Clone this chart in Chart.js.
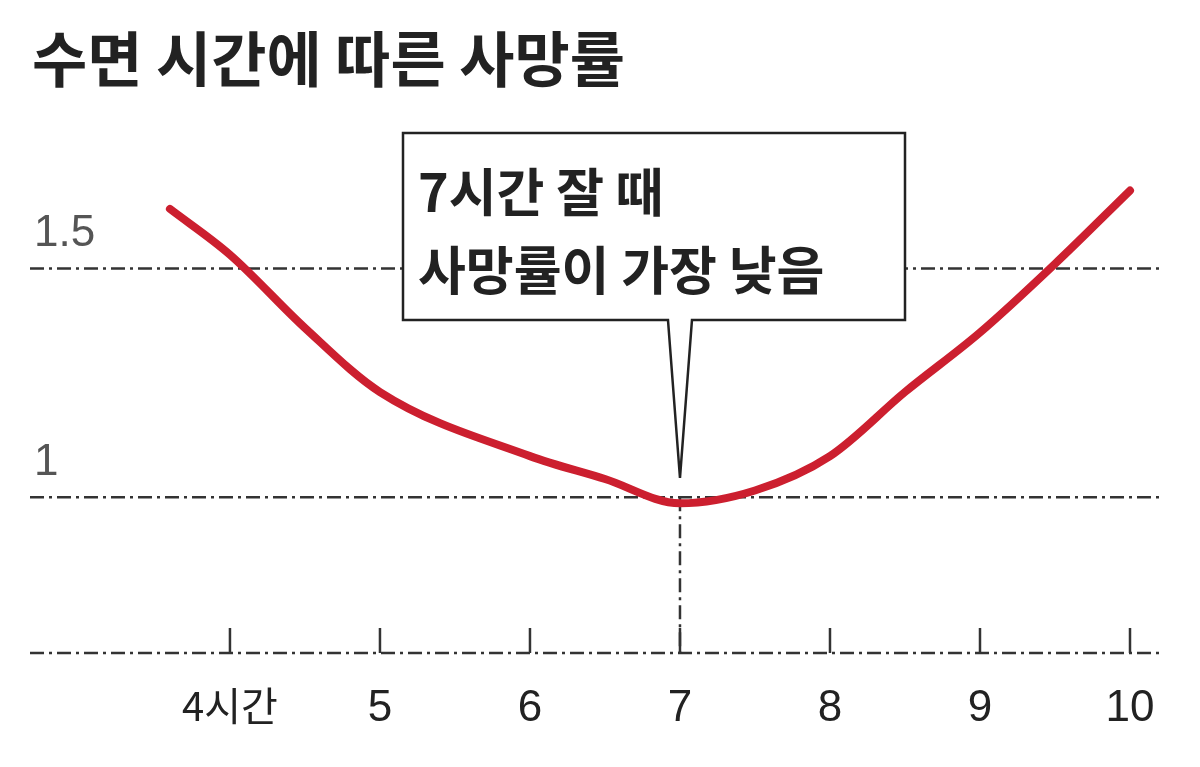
<!DOCTYPE html>
<html>
<head>
<meta charset="utf-8">
<script src="https://cdn.jsdelivr.net/npm/chart.js@4"></script>
<style>body{margin:0;background:#fff}</style>
</head>
<body>
<canvas id="myChart"></canvas>
<script>
const hours = [3.6, 4, 4.5, 5, 6, 6.5, 7, 7.5, 8, 8.5, 9, 9.5, 10];
const deathRate = [1.63, 1.53, 1.37, 1.23, 1.09, 1.04, 0.987, 1.015, 1.09, 1.23, 1.36, 1.51, 1.67];
const xTicks = [4, 5, 6, 7, 8, 9, 10];
const xTickLabels = ['4시간', '5', '6', '7', '8', '9', '10'];
const yLines = [1.5, 1];
const yLabels = ['1.5', '1'];

const numFont = "'Liberation Sans Narrow', 'Liberation Sans', sans-serif";
const krFont = "'Noto Sans CJK KR', sans-serif";

let ctx = document.getElementById('myChart').getContext('2d');
ctx.canvas.width = 1200;
ctx.canvas.height = 767;

const decor = {
    id: 'decor',
    beforeDatasetsDraw(chart) {
        const c = chart.ctx, x = chart.scales.x, y = chart.scales.y, a = chart.chartArea;
        c.save();
        c.strokeStyle = '#333';
        c.lineWidth = 2.5;
        c.setLineDash([14, 5, 3, 5]);
        yLines.forEach(v => {
            const py = y.getPixelForValue(v);
            c.beginPath(); c.moveTo(a.left, py); c.lineTo(a.right, py); c.stroke();
        });
        c.beginPath(); c.moveTo(a.left, a.bottom); c.lineTo(a.right, a.bottom); c.stroke();
        // vertical line at 7
        const p7 = x.getPixelForValue(7);
        c.beginPath(); c.moveTo(p7, y.getPixelForValue(1)); c.lineTo(p7, a.bottom); c.stroke();
        c.setLineDash([]);
        xTicks.forEach(v => {
            const px = x.getPixelForValue(v);
            c.beginPath(); c.moveTo(px, a.bottom - 25); c.lineTo(px, a.bottom); c.stroke();
        });
        c.fillStyle = '#222';
        c.textAlign = 'center';
        xTicks.forEach((v, i) => {
            const px = x.getPixelForValue(v);
            c.font = i === 0 ? '40px ' + krFont : '44px ' + numFont;
            c.fillText(xTickLabels[i], px, a.bottom + 68);
        });
        c.textAlign = 'left';
        c.fillStyle = '#555';
        c.font = '44px ' + numFont;
        yLines.forEach((v, i) => {
            c.fillText(yLabels[i], 34, y.getPixelForValue(v) - 22);
        });
        // title
        c.fillStyle = '#222';
        c.font = 'bold 60px ' + krFont;
        c.fillText('수면 시간에 따른 사망률', 32, 82);
        c.restore();
    },
    afterDatasetsDraw(chart) {
        const c = chart.ctx, x = chart.scales.x;
        const p7 = x.getPixelForValue(7);
        c.save();
        c.fillStyle = '#fff';
        c.strokeStyle = '#222';
        c.lineWidth = 2.5;
        c.beginPath();
        c.moveTo(403, 133); c.lineTo(905, 133); c.lineTo(905, 320);
        c.lineTo(p7 + 12, 320); c.lineTo(p7, 478); c.lineTo(p7 - 12, 320);
        c.lineTo(403, 320); c.closePath();
        c.fill(); c.stroke();
        c.fillStyle = '#222';
        c.font = 'bold 52px ' + krFont;
        c.textAlign = 'left';
        c.fillText('7시간 잘 때', 418, 212);
        c.fillText('사망률이 가장 낮음', 418, 290);
        c.restore();
    }
};

let chart1 = new Chart(ctx, {
    type: 'line',
    data: {
        datasets: [{
            data: hours.map((h, i) => ({x: h, y: deathRate[i]})),
            borderColor: '#cc1f2f',
            borderWidth: 8,
            pointRadius: 0,
            cubicInterpolationMode: 'monotone',
            borderCapStyle: 'round'
        }]
    },
    options: {
        responsive: false,
        animation: false,
        layout: { padding: { left: 30, right: 40, top: 110, bottom: 114 } },
        plugins: { legend: { display: false }, tooltip: { enabled: false } },
        scales: {
            x: { type: 'linear', min: 2.667, max: 10.2, display: false },
            y: { min: 0.66, max: 1.846, display: false }
        }
    },
    plugins: [decor]
});
</script>
</body>
</html>
